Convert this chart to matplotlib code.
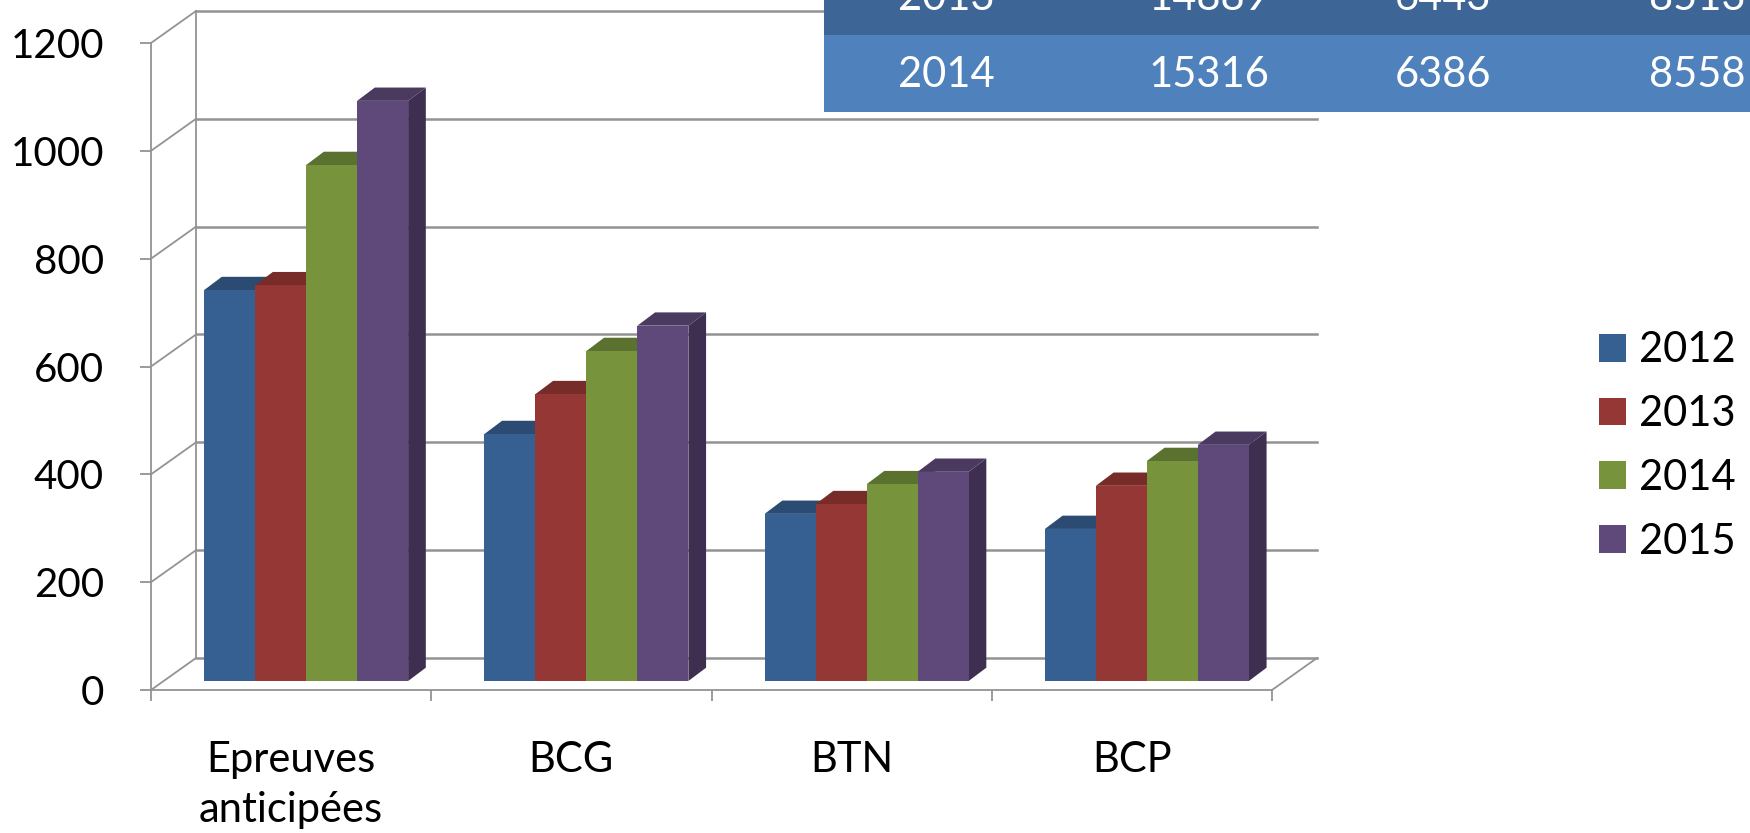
import numpy as np
import matplotlib.pyplot as plt
from matplotlib.patches import Polygon, Rectangle

plt.rcParams['font.family'] = ['Lato', 'DejaVu Sans']

categories = ['Epreuves\nanticipées', 'BCG', 'BTN', 'BCP']
years = ['2012', '2013', '2014', '2015']
v2012 = [725, 458, 310, 282]
v2013 = [734, 532, 328, 362]
v2014 = [957, 612, 365, 408]
v2015 = [1076, 659, 388, 438]
series = [v2012, v2013, v2014, v2015]

table_rows = [['2013', '14889', '6443', '8513'],
              ['2014', '15316', '6386', '8558']]

front = ['#376092', '#953735', '#77933C', '#5F497A']
top = ['#2C4B73', '#772C2A', '#5B712F', '#4A3A60']
side = ['#27436A', '#6A2726', '#506429', '#3E2F50']
grid_c = '#939393'

W, H = 1750, 833
fig = plt.figure(figsize=(W / 100, H / 100), dpi=100)
ax = fig.add_axes([151 / W, (H - 690) / H, 1121 / W, 647 / H])
ax.set_xlim(0, 4)
ax.set_ylim(0, 1200)

# pixel sizes of one data unit
ux = 1121 / 4
uy = 647 / 1200
DX, DY = 45 / ux, 32 / uy          # depth of the back wall
sx, sy = 15 / ux, 16.7             # front face of the bars
bdx, bdy = 17.7 / ux, 13.3 / uy    # depth of a bar
w = 51 / ux

# back wall, side wall and floor
for v in range(0, 1201, 200):
    ax.plot([DX, 4 + DX], [v + DY, v + DY], color=grid_c, lw=1.8, clip_on=False, zorder=1)
    ax.plot([0, DX], [v, v + DY], color=grid_c, lw=1.3, clip_on=False, zorder=1)
ax.plot([DX, DX], [DY, 1200 + DY], color=grid_c, lw=1.3, clip_on=False, zorder=1)
ax.plot([4, 4 + DX], [0, DY], color=grid_c, lw=1.3, clip_on=False, zorder=1)

for i in range(len(categories)):
    for j, vals in enumerate(series):
        v = vals[i]
        xl = i + 0.5 - 2 * w + j * w + sx
        ax.add_patch(Polygon([(xl + w, sy), (xl + w + bdx, sy + bdy),
                              (xl + w + bdx, v + sy + bdy), (xl + w, v + sy)],
                             closed=True, fc=side[j], ec='none', zorder=3, clip_on=False))
        ax.add_patch(Polygon([(xl, v + sy), (xl + w, v + sy),
                              (xl + w + bdx, v + sy + bdy), (xl + bdx, v + sy + bdy)],
                             closed=True, fc=top[j], ec='none', zorder=3, clip_on=False))
        ax.bar(xl, v, width=w, bottom=sy, align='edge', color=front[j],
               zorder=3, clip_on=False, label=years[j] if i == 0 else None)

for s in ['top', 'right']:
    ax.spines[s].set_visible(False)
for s in ['left', 'bottom']:
    ax.spines[s].set_color(grid_c)
    ax.spines[s].set_linewidth(1.3)

ax.set_yticks(range(0, 1201, 200))
ax.tick_params(axis='y', length=8, color=grid_c, width=1.3, labelsize=29, pad=26)
ax.set_xticks(np.arange(len(categories)) + 0.5)
ax.set_xticklabels(categories, fontsize=30, linespacing=1.36)
ax.set_xticks(range(0, 5), minor=True)
ax.tick_params(axis='x', which='major', length=0, pad=37)
ax.tick_params(axis='x', which='minor', length=8, color=grid_c, width=1.3)

leg = ax.legend(loc='center left', bbox_to_anchor=(1599 / W, (H - 446) / H),
                bbox_transform=fig.transFigure, frameon=False, fontsize=30,
                handlelength=0.65, handleheight=0.65, handletextpad=0.3,
                labelspacing=0.62, borderpad=0, borderaxespad=0)

# data table in the top right corner
row_colors = ['#3D6696', '#4F81BD']
row_tops = [-42, 35]
col_x = [946, 1209, 1443, 1697]
for r, row in enumerate(table_rows):
    y0 = row_tops[r]
    fig.add_artist(Rectangle((824 / W, (H - y0 - 77) / H), (W - 824) / W, 77 / H,
                             transform=fig.transFigure, fc=row_colors[r], ec='none', zorder=5))
    for c, txt in enumerate(row):
        fig.text(col_x[c] / W, (H - y0 - 40) / H, txt, color='white', fontsize=30,
                 ha='center', va='center', zorder=6)

fig.savefig('out.png', dpi=100)
